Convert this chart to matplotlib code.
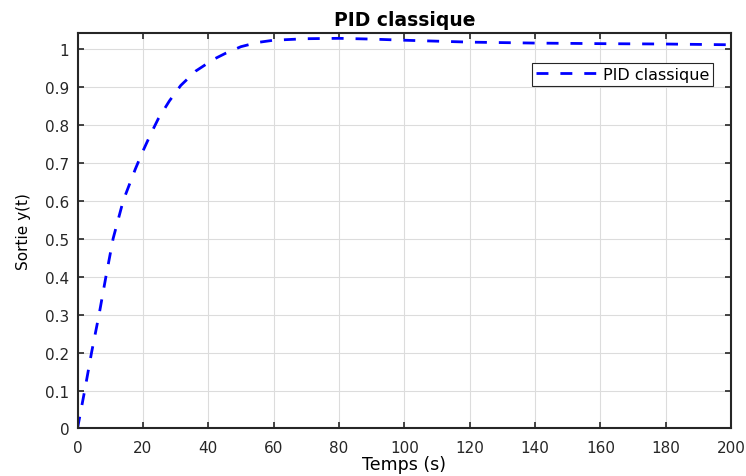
import matplotlib.pyplot as plt

plt.rcParams['font.family'] = ['DejaVu Sans']

# Réponse indicielle
temps = [0, 2.2, 4.3, 6.6, 8.7, 10.9, 14.0, 17.7, 19.9, 22.4, 24.7, 28.1, 31.6, 36.2,
         41.7, 45.4, 50, 55, 60, 70, 80, 90, 100, 120, 140, 160, 180, 200]
sortie = [0, 0.1, 0.2, 0.3, 0.4, 0.5, 0.6, 0.683, 0.728, 0.775, 0.815, 0.862, 0.903, 0.941,
          0.972, 0.988, 1.005, 1.016, 1.022, 1.026, 1.027, 1.025, 1.022, 1.017,
          1.0145, 1.013, 1.012, 1.010]

fig = plt.figure(figsize=(7.46, 4.77), dpi=100)
ax = fig.add_axes([0.1039, 0.0996, 0.8761, 0.8291])

ax.plot(temps, sortie, color='#0000ff', linewidth=2, dashes=(4.3, 4.3), label='PID classique')

ax.set_xlim(0, 200)
ax.set_ylim(0, 1.041)
ax.set_xticks(range(0, 201, 20))
ax.set_yticks([i / 10 for i in range(11)])
ax.set_yticklabels(['0', '0.1', '0.2', '0.3', '0.4', '0.5', '0.6', '0.7', '0.8', '0.9', '1'])

ax.grid(True, color='#dcdcdc', linewidth=0.8)
ax.tick_params(direction='in', top=True, right=True, length=4, width=1.2,
               labelsize=11, colors='#262626')
ax.tick_params(axis='x', pad=8)
ax.tick_params(axis='y', pad=6)
for s in ax.spines.values():
    s.set_linewidth(1.5)
    s.set_color('#262626')

ax.set_title('PID classique', fontsize=13.5, fontweight='bold', pad=6)
ax.set_xlabel('Temps (s)', fontsize=12.5, labelpad=0)
ax.set_ylabel('Sortie y(t)', fontsize=11, labelpad=10)

leg = ax.legend(loc='upper right', bbox_to_anchor=(0.973, 0.925), borderaxespad=0,
                fontsize=11.5, handlelength=4.0, fancybox=False, framealpha=1,
                borderpad=0.25, handletextpad=0.2)
leg.get_frame().set_edgecolor('#262626')
leg.get_frame().set_linewidth(0.8)

plt.savefig('out.png', dpi=100)
